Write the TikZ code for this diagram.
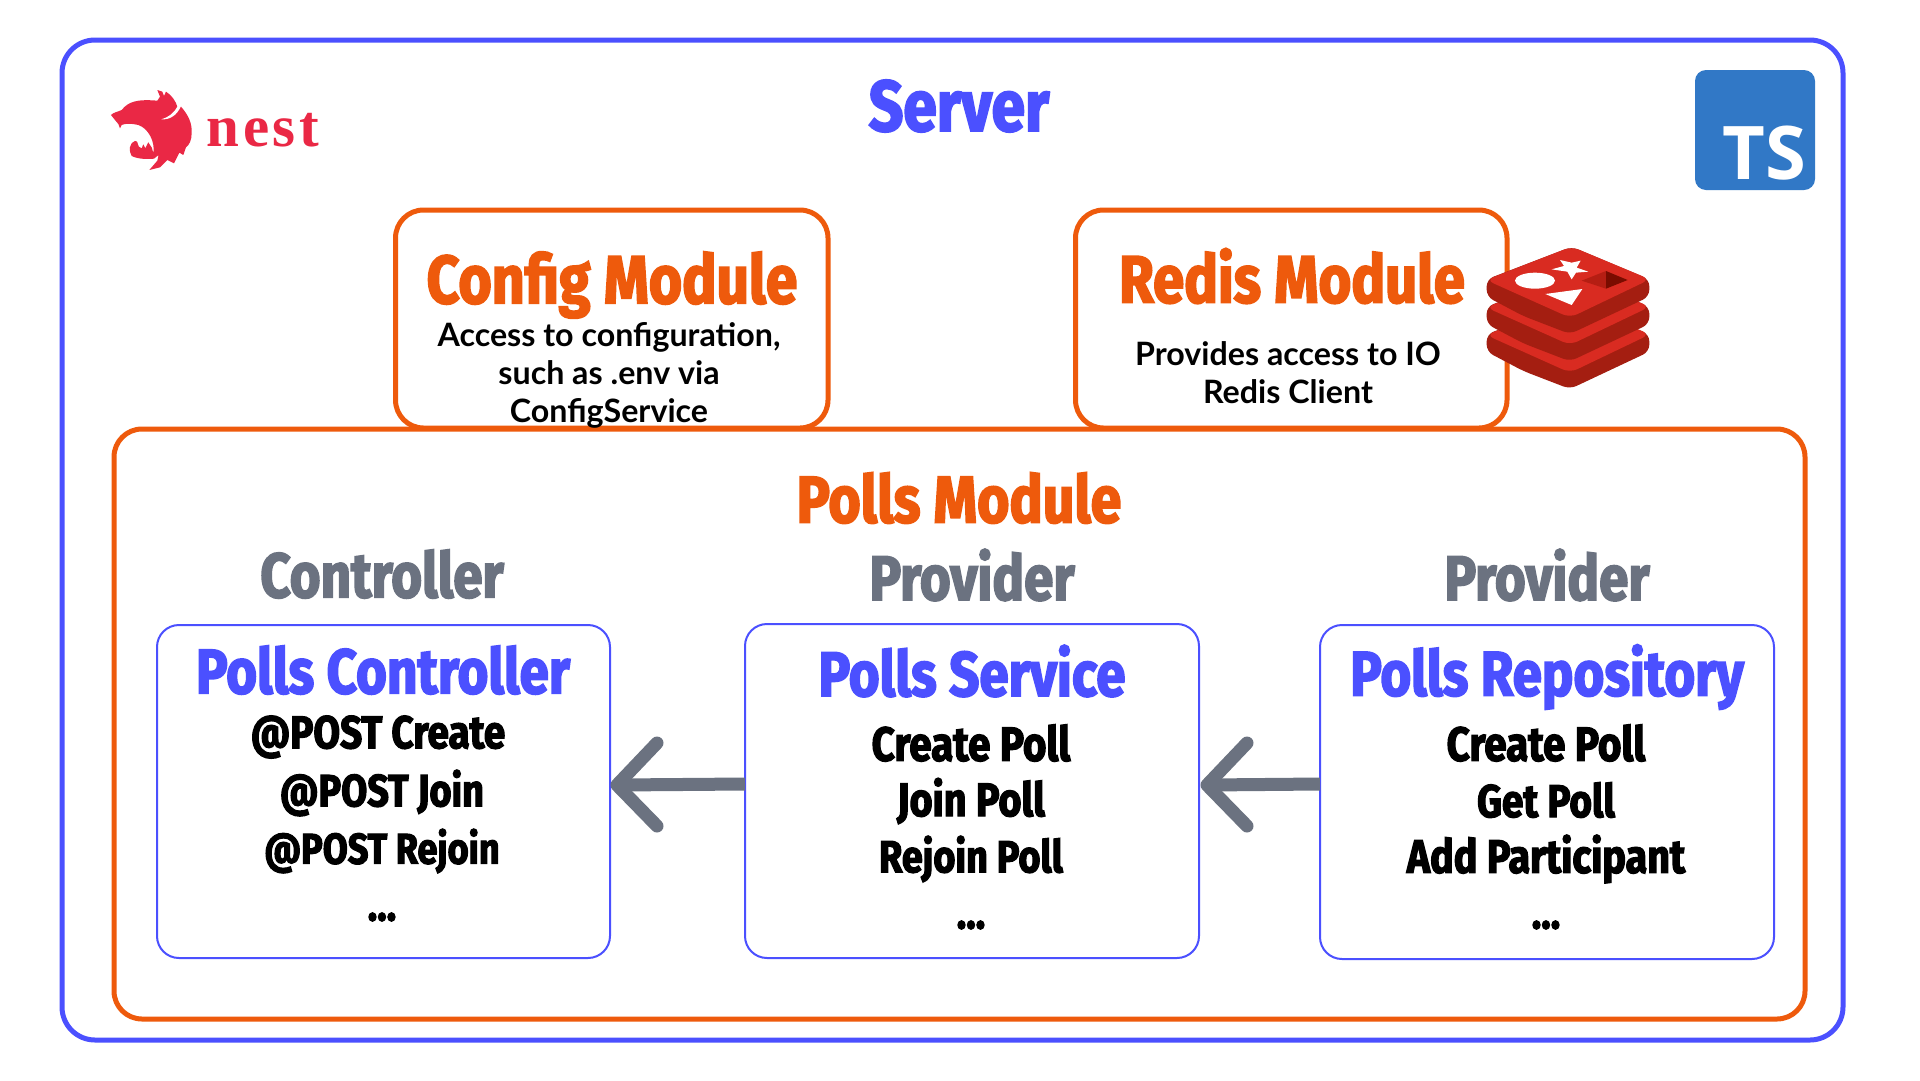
\documentclass[tikz,border=0pt]{standalone}
\usepackage{fontspec}
\setmainfont{Lato}
\newfontfamily\headfont[BoldFeatures={FakeStretch=0.84,FakeBold=2.6}]{Fira Sans}
\newfontfamily\nestfont[LetterSpace=6]{Liberation Serif}
\newfontfamily\tsfont{Open Sans}
\definecolor{cblue}{HTML}{4B50FF}
\definecolor{corange}{HTML}{EE5A0C}
\definecolor{cgray}{HTML}{6B7280}
\definecolor{cnest}{HTML}{EA2845}
\definecolor{cts}{HTML}{3178C6}
\definecolor{credA}{HTML}{D92B21}
\definecolor{credB}{HTML}{A41E11}
\definecolor{credC}{HTML}{AD2115}
\definecolor{credD}{HTML}{7A0C00}
\newcommand{\redislayer}[1]{%
 \fill[credB,rounded corners=7pt] (80,148+#1) -- (80,200+#1) -- (190,258+#1) -- (330,312+#1) -- (568,200+#1) -- (568,148+#1) -- (335,50+#1) -- cycle;
 \fill[credA,rounded corners=8pt] (78,150+#1) -- (335,50+#1) -- (570,148+#1) -- (330,263+#1) -- cycle;}
\tikzset{
 outerbox/.style={draw=cblue,line width=5pt,rounded corners=33pt},
 modbox/.style={draw=corange,line width=5pt,rounded corners=28pt},
 innerbox/.style={draw=cblue,line width=2pt,rounded corners=22pt},
 headtxt/.style={font=\headfont\bfseries\fontsize{#1}{#1}\selectfont,inner sep=0pt,anchor=center},
 bodytxt/.style={font=\fontsize{32.2}{38}\selectfont\bfseries,align=center,text=black,inner sep=0pt},
 itemtxt/.style={headtxt=#1,text=black},
 flow/.style={draw=cgray,line width=13pt,line cap=round,line join=round},
}
\begin{document}
\begin{tikzpicture}[x=1pt,y=-1pt]
\useasboundingbox (0,0) rectangle (1920,1080);
\fill[white] (0,0) rectangle (1920,1080);
\draw[outerbox] (62,40) rectangle (1843,1040);
\draw[modbox] (395.5,210) rectangle (828,428);
\draw[modbox] (1075.5,210) rectangle (1507,428);
\draw[modbox] (114,429) rectangle (1805,1019);
\node[headtxt=72,text=cblue] (server) at (959,106) {Server};
\node[headtxt=68,text=corange] (config) at (612,285) {Config Module};
\node[bodytxt] (configtxt) at (609,375) {Access to configuration,\\such as .env via\\ConfigService};
\node[headtxt=67,text=corange] (redis) at (1292,276) {Redis Module};
\node[bodytxt] (redistxt) at (1288,373) {Provides access to IO\\Redis Client};
\node[headtxt=66,text=corange] (polls) at (959,498) {Polls Module};
\node[headtxt=63,text=cgray] (l1) at (382,574) {Controller};
\node[headtxt=63,text=cgray] (l2) at (972,575) {Provider};
\node[headtxt=63,text=cgray] (l3) at (1547,575) {Provider};
\draw[innerbox] (157,625) rectangle (610,958);
\draw[innerbox] (745,624) rectangle (1199,958);
\draw[innerbox] (1320,625) rectangle (1774,959);
\node[headtxt=63,text=cblue] (t1) at (383,670) {Polls Controller};
\node[headtxt=63,text=cblue] (t2) at (972,671) {Polls Service};
\node[headtxt=63,text=cblue] (t3) at (1547,677) {Polls Repository};
\node[itemtxt=46] (a1) at (378,737) {@POST Create};
\node[itemtxt=45] (a2) at (382,793) {@POST Join};
\node[itemtxt=43] (a3) at (382,851) {@POST Rejoin};
\node[itemtxt=47] (a4) at (382,917) {...};
\node[itemtxt=48] (b1) at (971,743) {Create Poll};
\node[itemtxt=47] (b2) at (971,801) {Join Poll};
\node[itemtxt=45] (b3) at (971,859) {Rejoin Poll};
\node[itemtxt=47] (b4) at (971,925) {...};
\node[itemtxt=48] (c1) at (1546,743) {Create Poll};
\node[itemtxt=46] (c2) at (1546,800) {Get Poll};
\node[itemtxt=47] (c3) at (1546,859) {Add Participant};
\node[itemtxt=47] (c4) at (1546,925) {...};
% arrows
\coordinate (p1) at (745,784); \coordinate (q1) at (617,785);
\coordinate (p2) at (1320,784); \coordinate (q2) at (1207,785);
\draw[flow,line cap=butt] (p1) -- (q1);
\draw[flow] (657,743) -- (q1) -- (657,826);
\draw[flow,line cap=butt] (p2) -- (q2);
\draw[flow] (1247,743) -- (q2) -- (1247,826);
% TS logo
\fill[cts,rounded corners=11pt] (1695,70) rectangle (1815,190);
\node[font=\tsfont\bfseries\fontsize{74}{74}\selectfont,text=white,inner sep=0pt,anchor=base] (ts) at (1764,179) {TS};
% nest logo
\begin{scope}[shift={(80,60)},scale=0.3333]
\fill[cnest] (93,165) .. controls (100,157) and (115,155) .. (125,150)
 .. controls (145,125) and (170,117) .. (232,122) -- (240,110) -- (232,90) -- (247,95) -- (252,108) -- (258,95)
 .. controls (275,105) and (288,125) .. (292,140) -- (303,140)
 .. controls (325,165) and (337,190) .. (335,220) .. controls (335,240) and (328,255) .. (318,262)
 -- (310,285) -- (298,278) -- (282,310) -- (262,300) -- (240,322) -- (208,330) -- (232,302) -- (236,285) -- (222,296)
 .. controls (205,298) and (175,298) .. (155,288) .. controls (146,272) and (146,252) .. (165,243)
 .. controls (178,240) and (168,262) .. (185,265) -- (190,253) -- (196,265) -- (205,247) -- (216,264) -- (220,280)
 .. controls (226,245) and (205,205) .. (175,195) .. controls (155,190) and (135,190) .. (125,195) -- (120,205) -- (115,192) -- (105,180) -- cycle;
\fill[white] (303,138) .. controls (292,165) and (270,180) .. (244,178) .. controls (265,172) and (282,160) .. (293,138) -- cycle;
\end{scope}
\node[font=\nestfont\bfseries\fontsize{59}{59}\selectfont,text=cnest,inner sep=0pt,anchor=base] (nest) at (263,146) {nest};
% redis logo
\begin{scope}[shift={(1460,230)},scale=0.3333]
\redislayer{165}
\redislayer{82}
\redislayer{0}
\fill[white] (225,152) ellipse [x radius=60,y radius=24];
\fill[white] (300,90) -- (335,98) -- (362,92) -- (350,113) -- (385,125) -- (348,128) -- (335,148) -- (322,125) -- (275,118) -- (312,108) -- cycle;
\fill[white] (256,192) -- (367,177) -- (335,225) -- cycle;
\fill[credC!90!red] (365,152) -- (438,123) -- (438,176) -- cycle;
\fill[credD] (438,123) -- (503,150) -- (438,176) -- cycle;
\end{scope}
\end{tikzpicture}
\end{document}
